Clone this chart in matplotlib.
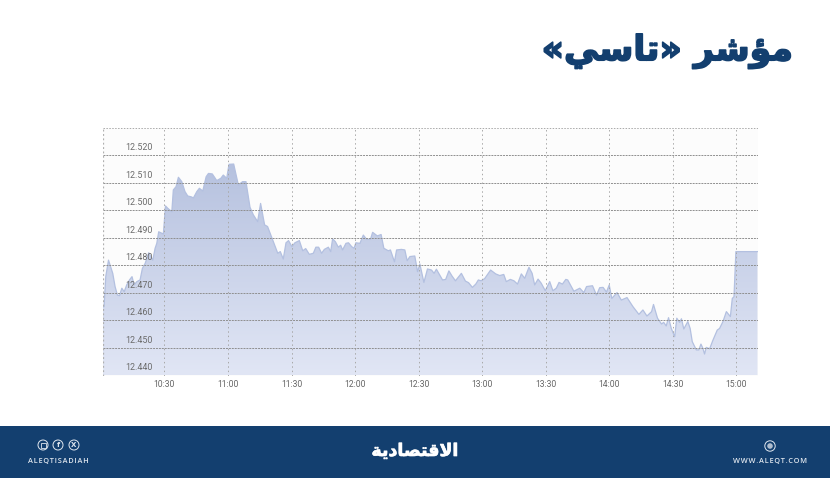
import numpy as np
import matplotlib
matplotlib.use("Agg")
import matplotlib.pyplot as plt
from matplotlib.colors import LinearSegmentedColormap
from matplotlib.patches import Circle, Rectangle, PathPatch
from matplotlib.path import Path
import matplotlib.patheffects as pe

# ============================== Data

# minutes after 10:00
MINUTES = [
    0.9, 1.5, 2.3, 3.6, 5.6, 6.7, 7.8, 8.8, 9.9, 11.0, 12.2, 13.5, 14.7, 15.7, 17.0,
    18.5, 19.6, 20.9, 22.6, 24.5, 25.6, 26.4, 27.3, 29.5, 30.5, 31.6, 33.5, 34.2, 35.5,
    36.6, 38.2, 39.7, 41.0, 42.6, 43.7, 45.3, 46.5, 48.1, 49.7, 50.8, 52.6, 54.7, 56.6,
    57.8, 59.4, 60.5, 62.7, 64.9, 66.9, 68.5, 70.4, 72.0, 74.0, 75.4, 77.3, 78.7, 81.1,
    83.5, 84.7, 86.1, 87.4, 88.6, 90.2, 91.6, 93.7, 95.3, 96.7, 98.4, 100.3, 101.5,
    102.8, 104.2, 105.5,
    107.4, 108.5, 109.4, 110.7, 112.1, 113.2, 114.1, 115.7, 116.9, 118.4, 119.5, 120.4,
    122.3, 123.9, 125.4, 127.3, 128.3, 130.5, 132.3, 133.6, 135.7, 136.7, 138.6, 139.6,
    141.9, 143.5, 144.6, 145.9, 148.2, 149.5, 150.6, 152.5, 154.2, 156.1, 157.3, 158.4,
    161.3, 162.8, 164.3, 165.8, 167.4, 170.2, 172.1, 173.6, 175.4, 177.0, 178.2, 179.5,
    181.2, 184.0, 186.4, 188.3, 190.2, 191.4, 193.3, 195.0, 196.7, 198.5, 200.1, 202.1,
    203.6, 204.8, 206.4, 207.9, 209.8, 211.9, 213.4, 215.0, 216.3,
    217.9, 219.5, 220.4, 223.3, 226.1, 228.0, 229.3, 232.1, 234.0, 235.5, 237.1, 238.7,
    240.0, 241.2, 243.7, 245.7, 248.4, 251.2, 254.0, 255.9, 257.8, 260.0, 260.9, 262.8,
    264.7, 265.7, 266.9, 268.0, 269.3, 270.9, 271.9, 273.2, 274.1, 275.2, 277.1, 278.2,
    279.2, 281.1, 282.3, 283.3, 284.2, 285.0, 285.8, 287.4, 289.0, 291.0, 292.1, 293.7,
    295.3, 297.2, 298.1, 298.9, 299.8, 310.0,
]
INDEX = [
    12465.0, 12465.0, 12475.9, 12481.9, 12477.1, 12472.3, 12469.2, 12469.0, 12471.7,
    12470.4, 12472.9, 12474.7, 12475.9, 12472.9, 12474.1, 12474.7, 12478.9, 12480.7,
    12484.6, 12481.9, 12486.2, 12488.0, 12492.2, 12491.4, 12501.6, 12500.7, 12499.5,
    12507.4, 12508.6, 12512.0, 12510.4, 12506.8, 12505.2, 12504.9, 12504.5, 12506.8,
    12508.0, 12507.0, 12512.2, 12513.4, 12513.2, 12510.8, 12511.6, 12512.8, 12511.6,
    12516.7, 12516.8, 12509.2, 12510.4, 12510.4, 12501.1, 12498.3, 12495.9, 12502.5,
    12494.7, 12494.1, 12489.2, 12484.4, 12485.0, 12482.3, 12488.2, 12489.0, 12486.8,
    12488.2, 12489.0, 12485.3, 12486.1, 12484.0, 12484.4, 12486.6, 12486.6, 12484.4,
    12485.8,
    12486.6, 12485.0, 12489.6, 12488.6, 12486.6, 12487.3, 12485.6, 12488.0, 12488.2,
    12486.8, 12486.2, 12488.2, 12488.0, 12491.0, 12489.5, 12489.5, 12492.0, 12490.7,
    12491.2, 12486.2, 12485.3, 12485.6, 12481.3, 12485.6, 12485.8, 12485.6, 12481.7,
    12483.2, 12483.4, 12477.7, 12480.5, 12473.8, 12478.7, 12478.3, 12477.1, 12478.6,
    12474.7, 12474.9, 12478.0, 12476.1, 12474.4, 12477.1, 12474.3, 12473.7, 12472.0,
    12473.2, 12474.7, 12474.4, 12475.2, 12478.3, 12476.9, 12476.3, 12476.7, 12474.1,
    12474.9, 12474.4, 12473.2, 12476.9, 12475.3, 12479.3, 12477.1, 12472.9, 12475.0,
    12473.5, 12470.8, 12474.1, 12470.8, 12471.7, 12473.8,
    12473.2, 12474.9, 12474.7, 12470.6, 12471.7, 12470.1, 12472.3, 12472.6, 12469.2,
    12471.9, 12472.0, 12470.3, 12472.9, 12468.0, 12470.1, 12467.4, 12468.3, 12465.0,
    12462.2, 12463.8, 12461.6, 12463.2, 12465.8, 12460.8, 12458.7, 12459.3, 12458.0,
    12461.0, 12457.1, 12454.1, 12460.8, 12459.3, 12460.6, 12456.9, 12459.6, 12457.1,
    12452.3, 12449.3, 12449.3, 12451.4, 12449.9, 12447.8, 12450.2, 12449.7, 12452.9,
    12456.5, 12457.1, 12459.6, 12463.2, 12461.4, 12468.0, 12468.6, 12485.0, 12485.0,
]
Y_TICKS = [12440, 12450, 12460, 12470, 12480, 12490, 12500, 12510, 12520]
Y_LABELS = ["12.440", "12.450", "12.460", "12.470", "12.480", "12.490", "12.500", "12.510", "12.520"]
X_TICKS = [30, 60, 90, 120, 150, 180, 210, 240, 270, 300]
X_LABELS = ["10:30", "11:00", "11:30", "12:00", "12:30", "13:00", "13:30", "14:00", "14:30", "15:00"]

# Arabic written as presentation forms in visual order (matplotlib does no shaping)
TITLE = "«\ufef2\ufeb3\ufe8e\ufe97» \ufeae\ufeb7\ufe86\ufee3"
LOGO = "\ufe94\ufef3\ufea9\ufe8e\ufebc\ufe98\ufed7\ufefb\ufe8d"

NAVY = "#133f6f"
W, H = 830, 479

# ============================== Figure

fig = plt.figure(figsize=(W / 100, H / 100), dpi=100, facecolor="white")

left, right, top, bottom = 103, 757.5, 127.7, 375.5
ax = fig.add_axes([left / W, 1 - bottom / H, (right - left) / W, (bottom - top) / H])
ax.set_facecolor("#fcfcfc")

# ------------------------- gradient area
cmap = LinearSegmentedColormap.from_list("area", ["#b4c0de", "#e1e6f5"])
grad = np.linspace(0, 1, 256).reshape(-1, 1)
img = ax.imshow(grad, cmap=cmap, aspect="auto", extent=(1, 310, 12440, 12520), zorder=1)
poly = ax.fill_between(MINUTES, INDEX, 12440, color="none", zorder=1)
img.set_clip_path(poly.get_paths()[0], transform=ax.transData)
ax.plot(MINUTES, INDEX, color="#b3c0e0", lw=0.9, zorder=2)

ax.set_xlim(1, 310)
ax.set_ylim(12440, 12530)

# ------------------------- grid
for v in Y_TICKS[1:] + [12440]:
    ax.axhline(v, color="#8f8f8f", lw=0.7, ls=(0, (2, 1)), zorder=3)
ax.axhline(12530, color="#aaaaaa", lw=0.7, ls=(0, (1.5, 1.5)), zorder=3)
for t in X_TICKS:
    ax.axvline(t, color="#a8a8a8", lw=0.7, ls=(0, (1.5, 3)), zorder=3)
ax.axvline(1, color="#b0b0b0", lw=0.9, ls=(0, (1.5, 2)), zorder=3)

for s in ax.spines.values():
    s.set_visible(False)

ax.set_xticks(X_TICKS)
ax.set_xticklabels(X_LABELS, fontsize=6.2, color="#666666", family="Roboto")
ax.set_yticks([])
ax.tick_params(axis="x", length=0, pad=3.5)

# y labels sit inside the plot, above their grid line
for v, lab in zip(Y_TICKS, Y_LABELS):
    ax.annotate(lab, (0, v), xycoords=("axes fraction", "data"), xytext=(16, 2.2),
                textcoords="offset points", fontsize=6.4, color="#6b6b6b",
                family="Roboto", va="bottom", zorder=5)

# ------------------------- overlay in pixel coordinates: title + footer
ov = fig.add_axes([0, 0, 1, 1], facecolor="none")
ov.set_xlim(0, W)
ov.set_ylim(H, 0)
ov.axis("off")

title = ov.text(793, 51, TITLE, ha="right", va="center", fontsize=25, color=NAVY,
                family="DejaVu Sans", fontweight="bold")
title.set_path_effects([pe.withStroke(linewidth=1.2, foreground=NAVY)])

ov.add_patch(Rectangle((0, 426), W, 52, facecolor=NAVY, edgecolor="none"))

logo = ov.text(415, 451, LOGO, ha="center", va="center", fontsize=12.5, color="white",
               family="DejaVu Sans", fontweight="bold")
logo.set_path_effects([pe.withStroke(linewidth=0.5, foreground="white")])

HAIR = "\u200a"
ov.text(58, 462, HAIR.join("ALEQTISADIAH"), ha="center", va="center", fontsize=5.3,
        color="#dfe6ee", family=["Open Sans", "DejaVu Sans"], fontweight="semibold")
ov.text(770, 462, HAIR.join("WWW.ALEQT.COM"), ha="center", va="center", fontsize=5.3,
        color="#dfe6ee", family=["Open Sans", "DejaVu Sans"], fontweight="semibold")

# social icons
for cx, glyph in zip([43, 58, 74], ["", "f", "X"]):
    ov.add_patch(Circle((cx, 445), 5, facecolor="none", edgecolor="#dfe6ee", lw=0.7))
    if glyph:
        ov.text(cx, 445, glyph, ha="center", va="center", fontsize=5, color="#dfe6ee",
                fontweight="bold")
ov.add_patch(Rectangle((40.5, 442.5), 5, 5, facecolor="none", edgecolor="#dfe6ee", lw=0.6))

# globe icon
ov.add_patch(Circle((770, 446), 5.2, facecolor="none", edgecolor="#dfe6ee", lw=0.7))
ov.add_patch(Circle((770, 446), 2.8, facecolor="#aebccd", edgecolor="none"))

fig.savefig("out.png", dpi=100, facecolor="white")
